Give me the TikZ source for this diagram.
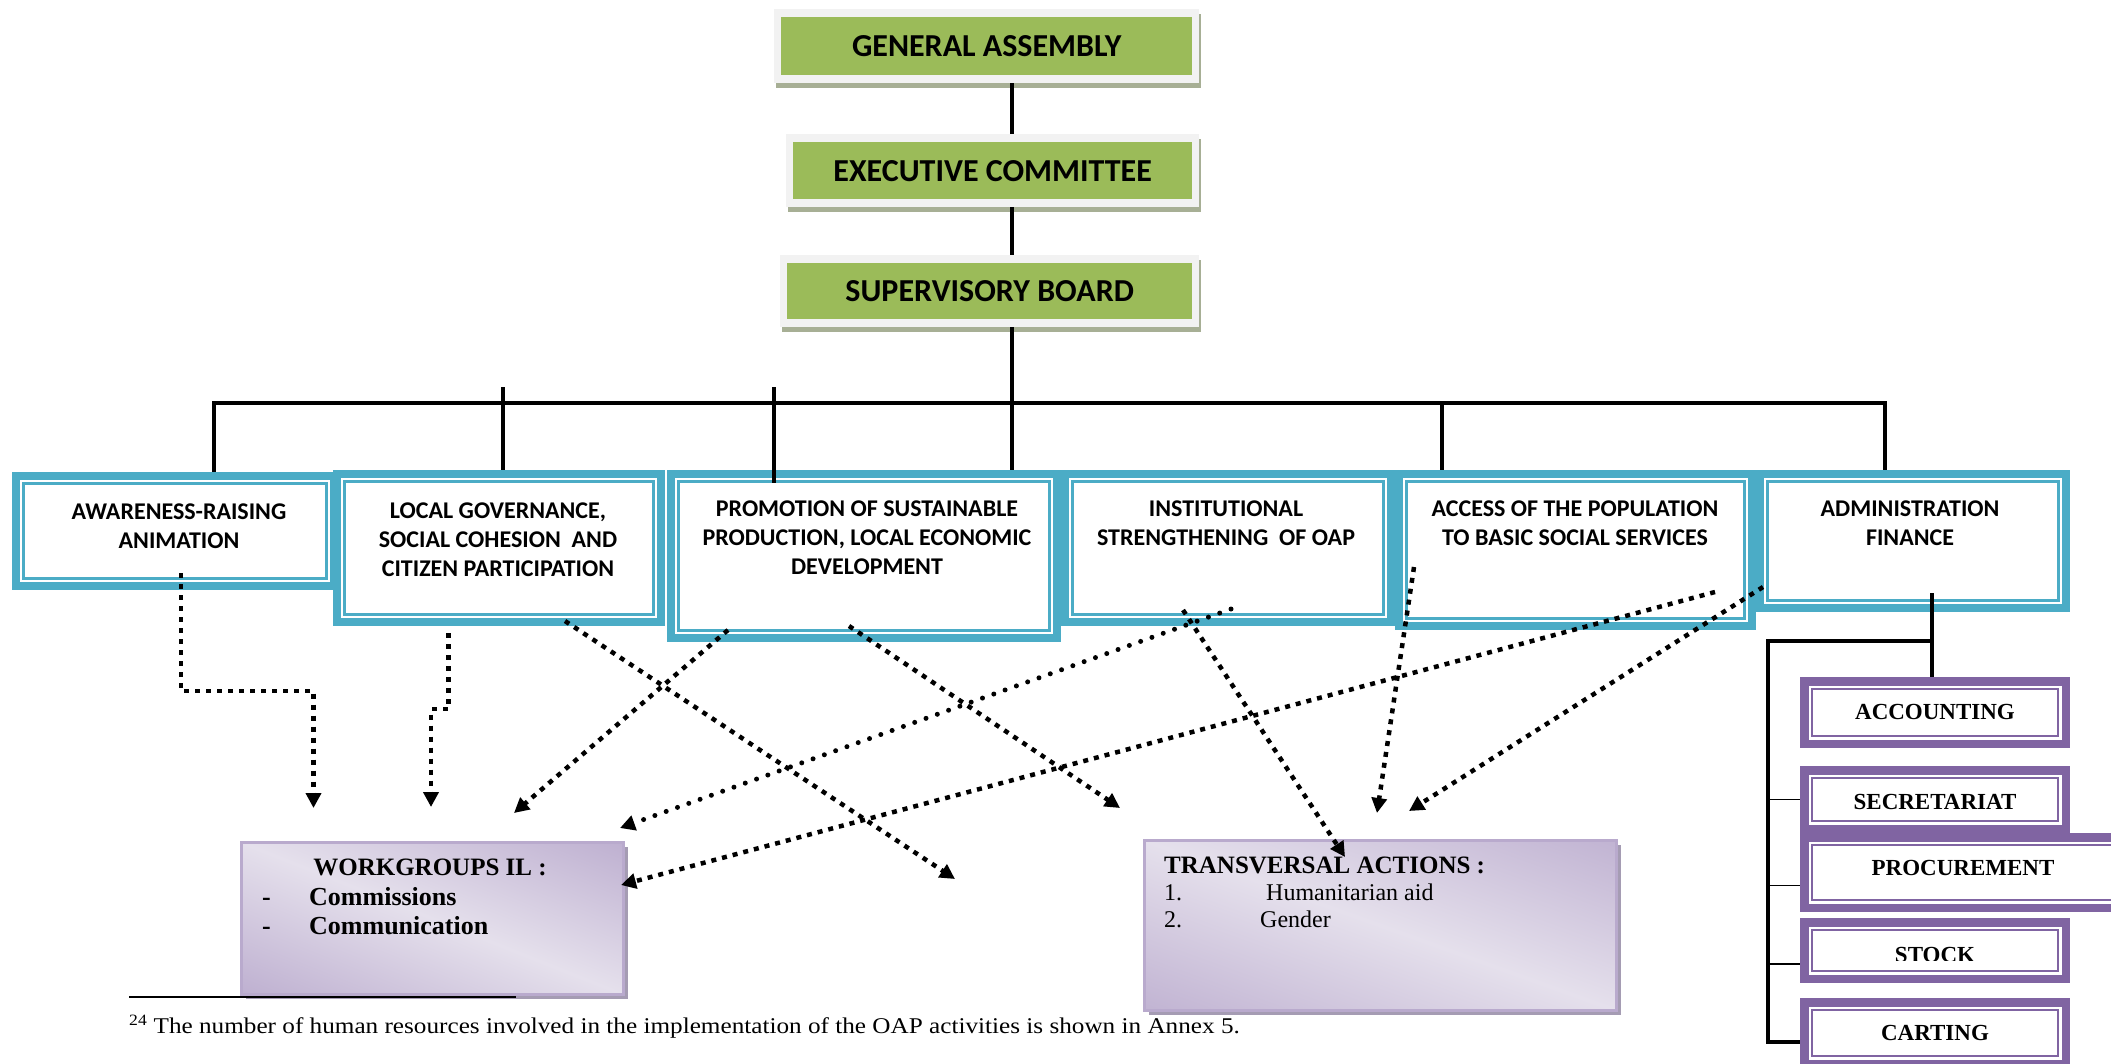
\documentclass[tikz,border=0pt]{standalone}
\usepackage{fontspec}
\setmainfont{Liberation Serif}
\newfontfamily\carlito{Carlito}
\newfontfamily\fnserif[FakeStretch=1.12]{Liberation Serif}
\usetikzlibrary{arrows.meta}
\definecolor{cBlue}{HTML}{4BACC6}
\definecolor{cGreen}{HTML}{9BBB59}
\definecolor{cFrame}{HTML}{F2F2F2}
\definecolor{cGShadow}{HTML}{A7AF95}
\definecolor{cPurple}{HTML}{8064A2}
\definecolor{cLavDark}{HTML}{AE9CC5}
\definecolor{cLavLight}{HTML}{E5E0EC}
\definecolor{cLavBorder}{HTML}{B9AACD}
\definecolor{cLavShadow}{HTML}{A59CB3}
\tikzset{
  greenfrm/.style={rectangle, inner sep=0pt, fill=cFrame,
    preaction={fill=cGShadow, transform canvas={xshift=2pt,yshift=-5pt}},
    path picture={\fill[cGreen] ([xshift=7pt,yshift=-8pt]path picture bounding box.north west) rectangle ([xshift=-7pt,yshift=8pt]path picture bounding box.south east);},
    font=\carlito\bfseries\fontsize{32}{38}\selectfont},
  bluefrm/.style={rectangle, inner sep=0pt, fill=cBlue,
    path picture={\fill[white] ([xshift=8pt,yshift=-8pt]path picture bounding box.north west) rectangle ([xshift=-8pt,yshift=8pt]path picture bounding box.south east);
      \draw[cBlue,line width=2.5pt] ([xshift=11.5pt,yshift=-11.5pt]path picture bounding box.north west) rectangle ([xshift=-11.5pt,yshift=11.5pt]path picture bounding box.south east);}},
  purpfrm/.style={rectangle, inner sep=0pt, fill=cPurple,
    path picture={\fill[white] ([xshift=8.5pt,yshift=-8.5pt]path picture bounding box.north west) rectangle ([xshift=-8.5pt,yshift=8.5pt]path picture bounding box.south east);
      \draw[cPurple,line width=2pt] ([xshift=12pt,yshift=-12pt]path picture bounding box.north west) rectangle ([xshift=-12pt,yshift=12pt]path picture bounding box.south east);}},
  gradbox/.style 2 args={rectangle, draw=cLavBorder, line width=2.5pt,
    preaction={fill=cLavShadow, transform canvas={xshift=5pt,yshift=-5pt}},
    path picture={\shade[top color=cLavDark, bottom color=cLavDark, middle color=cLavLight, shading angle=#2]
      ([xshift=-#1pt,yshift=-#1pt]path picture bounding box.center) rectangle ([xshift=#1pt,yshift=#1pt]path picture bounding box.center);}},
  bluetxt/.style={inner sep=0pt, align=center, font=\carlito\bfseries\fontsize{24}{29}\selectfont},
  purptxt/.style={inner sep=0pt, font=\bfseries\fontsize{23}{27}\selectfont},
  headtxt/.style={inner sep=0pt, anchor=base west, font=\bfseries\fontsize{25}{29}\selectfont},
  bitemtxt/.style={inner sep=0pt, anchor=base west, font=\bfseries\fontsize{26}{30}\selectfont},
  itemtxt/.style={inner sep=0pt, anchor=base west, font=\fontsize{24}{28}\selectfont},
  solidln/.style={line width=4.5pt},
  thinln/.style={line width=1.5pt},
  sqdash/.style={line width=4.5pt, dash pattern=on 5pt off 6pt, -{Triangle[length=15pt,width=15pt]}},
  rdots/.style={line width=5pt, line cap=round, dash pattern=on 0pt off 12pt, -{Triangle[length=15pt,width=15pt]}}
}
\begin{document}
\begin{tikzpicture}[x=1pt,y=-1pt]
\useasboundingbox (0,0) rectangle (2111,1063);
% top boxes
\node[greenfrm, minimum width=425pt, minimum height=74pt, anchor=north west] (ga) at (774,9) {GENERAL ASSEMBLY};
\node[greenfrm, minimum width=413pt, minimum height=73pt, anchor=north west] (ec) at (786,134) {EXECUTIVE COMMITTEE};
\node[greenfrm, minimum width=419pt, minimum height=72pt, anchor=north west] (sb) at (780,255) {SUPERVISORY BOARD};
% middle row
\node[bluefrm, minimum width=326pt, minimum height=118pt, anchor=north west] (b1) at (12,472) {};
\node[bluefrm, minimum width=332pt, minimum height=156pt, anchor=north west] (b2) at (333,470) {};
\node[bluefrm, minimum width=394pt, minimum height=172pt, anchor=north west] (b3) at (667,470) {};
\node[bluefrm, minimum width=334pt, minimum height=156pt, anchor=north west] (b4) at (1061,470) {};
\node[bluefrm, minimum width=361pt, minimum height=160pt, anchor=north west] (b5) at (1395,470) {};
\node[bluefrm, minimum width=314pt, minimum height=142pt, anchor=north west] (b6) at (1756,470) {};
\node[bluetxt] (t1) at (179,526.5) {AWARENESS-RAISING\\ANIMATION};
\node[bluetxt] (t2) at (498,539.5) {LOCAL GOVERNANCE,\\SOCIAL COHESION\ \ AND\\CITIZEN PARTICIPATION};
\node[bluetxt] (t3) at (867,538) {PROMOTION OF SUSTAINABLE\\PRODUCTION, LOCAL ECONOMIC\\DEVELOPMENT};
\node[bluetxt] (t4) at (1226,523.5) {INSTITUTIONAL\\STRENGTHENING\ \ OF OAP};
\node[bluetxt] (t5) at (1575,523.5) {ACCESS OF THE POPULATION\\TO BASIC SOCIAL SERVICES};
\node[bluetxt] (t6) at (1910,523.5) {ADMINISTRATION\\FINANCE};
% purple boxes
\node[purpfrm, minimum width=270pt, minimum height=71pt, anchor=north west] (acc) at (1800,677) {};
\node[purpfrm, minimum width=270pt, minimum height=67pt, anchor=north west] (sec) at (1800,766) {};
\node[purpfrm, minimum width=330pt, minimum height=79pt, anchor=north west] (proc) at (1800,833) {};
\node[purpfrm, minimum width=270pt, minimum height=65pt, anchor=north west] (stk) at (1800,918) {};
\node[purpfrm, minimum width=270pt, minimum height=70pt, anchor=north west] (car) at (1800,998) {};
\node[purptxt] (acct) at (1935,712) {ACCOUNTING};
\node[purptxt] (sect) at (1935,802) {SECRETARIAT};
\node[purptxt] (proct) at (1963,868) {PROCUREMENT};
\begin{scope}
\clip (1812,930) rectangle (2058,960);
\node[purptxt] (stkt) at (1935,955) {STOCK};
\end{scope}
\node[purptxt] (cart) at (1935,1033) {CARTING};
% gradient boxes
\node[gradbox={200}{-21.7}, minimum width=382pt, minimum height=152pt, anchor=north west] (wg) at (240,841) {};
\node[gradbox={245}{-19.8}, minimum width=472pt, minimum height=170pt, anchor=north west] (ta) at (1143,839) {};
\node[headtxt, anchor=base] (wgt) at (430,875) {WORKGROUPS IL :};
\node[bitemtxt] (wgd1) at (262,905) {-};
\node[bitemtxt] (wgi1) at (309,905) {Commissions};
\node[bitemtxt] (wgd2) at (262,934) {-};
\node[bitemtxt] (wgi2) at (309,934) {Communication};
\node[headtxt] (tat) at (1164,873) {TRANSVERSAL ACTIONS :};
\node[itemtxt] (tan1) at (1164,900) {1.};
\node[itemtxt] (tai1) at (1266,900) {Humanitarian aid};
\node[itemtxt] (tan2) at (1164,927) {2.};
\node[itemtxt] (tai2) at (1260,927) {Gender};
% solid connectors
\coordinate (trunk) at (1012,403);
\draw[solidln] (ga.south -| trunk) -- (ec.north -| trunk);
\draw[solidln] (ec.south -| trunk) -- (sb.north -| trunk);
\draw[solidln] (sb.south -| trunk) -- (trunk |- b3.north);
\coordinate (barL) at (214,403);
\coordinate (barR) at (1885,403);
\draw[solidln] (barL |- b1.north) -- (barL) -- (barR) -- (barR |- b6.north);
\coordinate (d2) at (503,387);
\draw[solidln] (d2) -- (d2 |- b2.north);
\coordinate (d3) at (774,387);
\coordinate (d3e) at (774,483);
\draw[solidln] (d3) -- (d3e);
\coordinate (d5) at (1442,403);
\draw[solidln] (d5) -- (d5 |- b5.north);
% admin tree
\coordinate (adm) at (1932,593);
\coordinate (tk) at (1768,641);
\coordinate (tb) at (1768,1042);
\draw[solidln] (adm) -- (adm |- acc.north);
\draw[solidln] (adm |- tk) -- (tk) -- (tb) -- (tb -| car.west);
\coordinate (pk) at ([yshift=-13pt]proc.west);
\coordinate (sk) at ([yshift=-13.5pt]stk.west);
\draw[thinln] (tk |- sec.west) -- (sec.west);
\draw[thinln] (tk |- pk) -- (pk);
\draw[thinln] (tk |- sk) -- (sk);
% footnote
\coordinate (fnL) at (129,997);
\coordinate (fnR) at (516,997);
\draw[line width=1.3pt] (fnL) -- (fnR);
\node[inner sep=0pt, anchor=base west, font=\fnserif\fontsize{22.5}{26}\selectfont] (fn) at (129,1033) {\textsuperscript{24} The number of human resources involved in the implementation of the OAP activities is shown in Annex 5.};
% dotted connectors
\coordinate (sA) at (181,573); \coordinate (kA) at (313.5,691); \coordinate (eA) at (313.5,808);
\draw[sqdash] (sA) |- (kA) -- (eA);
\coordinate (sB) at (448.5,633); \coordinate (kB) at (431,709); \coordinate (eB) at (431,807);
\draw[sqdash] (sB) |- (kB) -- (eB);
\coordinate (sC) at (728,630); \coordinate (eC) at (514,813);
\draw[sqdash] (sC) -- (eC);
\coordinate (sD) at (565,621); \coordinate (eD) at (955,879);
\draw[sqdash] (sD) -- (eD);
\coordinate (sE) at (849,626); \coordinate (eE) at (1120,808);
\draw[sqdash] (sE) -- (eE);
\coordinate (sF) at (1231,609); \coordinate (eF) at (620,828);
\draw[rdots] (sF) -- (eF);
\coordinate (sG) at (1183,610); \coordinate (eG) at (1345,857);
\draw[sqdash] (sG) -- (eG);
\coordinate (sH) at (1715,592); \coordinate (eH) at (621,885);
\draw[sqdash] (sH) -- (eH);
\coordinate (sI) at (1414,567); \coordinate (eI) at (1377,813);
\draw[sqdash] (sI) -- (eI);
\coordinate (sJ) at (1763,587); \coordinate (eJ) at (1409,811);
\draw[sqdash] (sJ) -- (eJ);
\end{tikzpicture}
\end{document}
